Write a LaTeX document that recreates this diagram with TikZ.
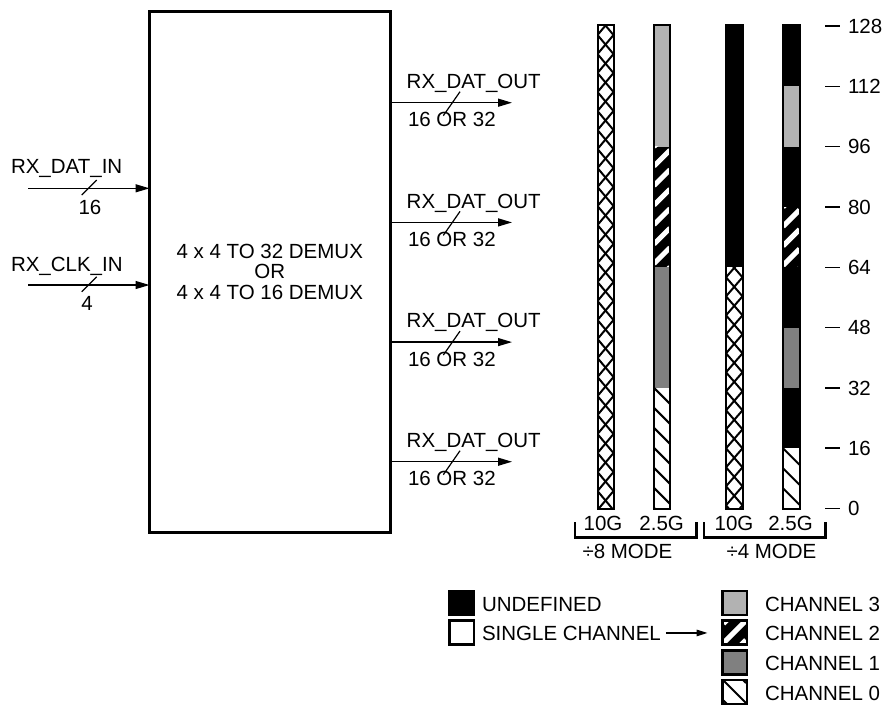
\documentclass[tikz,border=0pt]{standalone}
\usepackage{fontspec}
\setmainfont{Liberation Sans}
\usetikzlibrary{arrows.meta}
\definecolor{lgray}{RGB}{178,178,178}
\definecolor{mgray}{RGB}{128,128,128}
% cross-hatch region: x0 x1 ytop ybot
\newcommand\xhfill[4]{%
  \begin{scope}
    \clip (#1,#3) rectangle (#2,#4);
    \fill[white] (#1,#3) rectangle (#2,#4);
    \foreach \k in {0,...,30}{%
      \pgfmathsetmacro\yy{#3-28+\k*19}
      \draw[line width=2pt] (#1,\yy) -- (#2,\yy+19);
      \draw[line width=2pt] (#2,\yy) -- (#1,\yy+19);
    }
  \end{scope}}
% channel 2: black with white / stripes; x0 x1 ytop ybot offset
\newcommand\chtwofill[5]{%
  \begin{scope}
    \clip (#1,#3) rectangle (#2,#4);
    \fill[black] (#1,#3) rectangle (#2,#4);
    \pgfmathsetmacro\ww{#2-#1}
    \foreach \k in {-2,...,30}{%
      \pgfmathsetmacro\yy{#3+#5+\k*19.5}
      \draw[white,line width=5pt] (#1,\yy) -- (#2,\yy-\ww);
    }
  \end{scope}}
% channel 0: white with black \ stripes
\newcommand\chzerofill[5]{%
  \begin{scope}
    \clip (#1,#3) rectangle (#2,#4);
    \fill[white] (#1,#3) rectangle (#2,#4);
    \pgfmathsetmacro\ww{#2-#1}
    \foreach \k in {-3,...,30}{%
      \pgfmathsetmacro\yy{#3+#5+\k*20}
      \draw[black,line width=2pt] (#1,\yy) -- (#2,\yy+\ww);
    }
  \end{scope}}
\begin{document}
\begin{tikzpicture}[x=1pt,y=-1pt,
  every node/.style={inner sep=0pt, outer sep=0pt},
  font=\fontsize{20.5}{20.5}\selectfont,
  arr/.style={line width=1.3pt, -{Triangle[length=14pt,width=8pt]}},
  arrsmall/.style={line width=1.3pt, -{Triangle[length=11pt,width=6.5pt]}},
  slash/.style={line width=1.2pt},
  tick/.style={line width=1.5pt},
  barline/.style={line width=2pt},
  brk/.style={line width=2.5pt},
  sq/.style={draw, line width=2.5pt, minimum width=24.5pt, minimum height=24pt}]
\useasboundingbox (0,0) rectangle (890,705);

% main block
\node[draw, line width=3pt, minimum width=240.5pt, minimum height=520.5pt, align=center]
  (box) at (269.75,271.75) {4 x 4 TO 32 DEMUX\\OR\\4 x 4 TO 16 DEMUX};

% inputs
\coordinate (in1) at (28,188.3);
\coordinate (in2) at (28,285);
\draw[arr] (in1) -- (in1 -| box.west);
\draw[arr] (in2) -- (in2 -| box.west);
\node[anchor=base west] (lin1) at (11,173.3) {RX\_DAT\_IN};
\node[anchor=base west] (lin2) at (11,271.7) {RX\_CLK\_IN};
\draw[slash] (96.7,180) -- (81.7,195);
\draw[slash] (96.7,276.7) -- (81.7,291.7);
\node[anchor=base] (win1) at (90,214) {16};
\node[anchor=base] (win2) at (87,310) {4};

% outputs
\foreach \i/\y in {1/102.7, 2/222.4, 3/342.1, 4/461.7}{
  \coordinate (out\i) at (512,\y);
  \draw[arr] (out\i -| box.east) -- (out\i);
  \node[anchor=base west] (lout\i) at (406.7,\y-14.3) {RX\_DAT\_OUT};
  \node[anchor=base west] (wout\i) at (408,\y+24) {16 OR 32};
  \draw[slash] (460,\y-11) -- (443.3,\y+13);
}

% bars: y(128)=25, 112=86.3, 96=146.6, 80=207, 64=267.3, 48=327.6, 32=387.9, 16=448.2, 0=508.5
% bar 1: 10G div8
\xhfill{597.5}{613.5}{25}{508.5}
\draw[barline] (597.5,25) rectangle (613.5,508.5);
% bar 2: 2.5G div8
\fill[lgray] (654,25) rectangle (670,146.6);
\chtwofill{654}{670}{146.6}{267.3}{0}
\fill[mgray] (654,267.3) rectangle (670,387.9);
\chzerofill{654}{670}{387.9}{508.5}{0}
\draw[barline] (654,25) rectangle (670,508.5);
% bar 3: 10G div4
\fill[black] (726,25) rectangle (742.5,267.3);
\xhfill{726}{742.5}{267.3}{508.5}
\draw[barline] (726,25) rectangle (742.5,508.5);
% bar 4: 2.5G div4
\fill[black] (783,25) rectangle (799.5,86.3);
\fill[lgray] (783,86.3) rectangle (799.5,146.6);
\fill[black] (783,146.6) rectangle (799.5,207);
\chtwofill{783}{799.5}{207}{267.3}{0}
\fill[black] (783,267.3) rectangle (799.5,327.6);
\fill[mgray] (783,327.6) rectangle (799.5,387.9);
\fill[black] (783,387.9) rectangle (799.5,448.2);
\chzerofill{783}{799.5}{448.2}{508.5}{0}
\draw[barline] (783,25) rectangle (799.5,508.5);

% scale
\foreach \v/\y in {128/26, 112/86.3, 96/146.6, 80/207, 64/267.3, 48/327.6, 32/387.9, 16/448.2, 0/508.5}{
  \draw[tick] (825,\y) -- (840,\y);
  \node[anchor=base west] (t\v) at (848,\y+7.3) {\v};
}

% bar labels and brackets
\node[anchor=base] (b1) at (603,530.7) {10G};
\node[anchor=base] (b2) at (661.7,530.7) {2.5G};
\node[anchor=base] (b3) at (734,530.7) {10G};
\node[anchor=base] (b4) at (790.5,530.7) {2.5G};
\draw[brk] (575,522) -- (575,537.5) -- (696.7,537.5) -- (696.7,522);
\draw[brk] (704,522) -- (704,537.5) -- (825.7,537.5) -- (825.7,522);
\node[anchor=base] (m8) at (627.5,558) {÷8 MODE};
\node[anchor=base] (m4) at (771.5,558) {÷4 MODE};

% legend
\node[sq, fill=black] (und) at (461.75,603) {};
\node[sq, fill=white] (sgl) at (461.75,632.5) {};
\node[anchor=base west] (lund) at (482,611) {UNDEFINED};
\node[anchor=base west] (lsgl) at (482,640) {SINGLE CHANNEL};

\node[sq, fill=lgray] (c3) at (734.75,603) {};
\chtwofill{723.5}{746}{620.5}{644.5}{3}
\node[sq] (c2) at (734.75,632.5) {};
\node[sq, fill=mgray] (c1) at (734.75,662.5) {};
\chzerofill{723.5}{746}{680.5}{703.5}{0}
\node[sq] (c0) at (734.75,692) {};
\node[anchor=base west] (lc3) at (765,611) {CHANNEL 3};
\node[anchor=base west] (lc2) at (765,640) {CHANNEL 2};
\node[anchor=base west] (lc1) at (765,670) {CHANNEL 1};
\node[anchor=base west] (lc0) at (765,700) {CHANNEL 0};
\draw[arrsmall] ([xshift=5pt]lsgl.east) -- ([xshift=-15pt]c2.west |- lsgl.east);
\end{tikzpicture}
\end{document}
